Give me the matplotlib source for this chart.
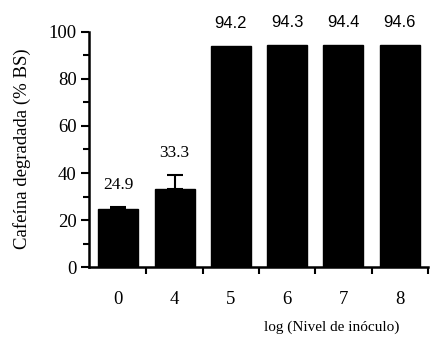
import matplotlib
matplotlib.use("Agg")
import matplotlib.pyplot as plt
import numpy as np

categories = ["0", "4", "5", "6", "7", "8"]
values = [24.9, 33.3, 94.2, 94.3, 94.4, 94.6]
errors = [0.6, 5.8, 0.0, 0.0, 0.0, 0.0]
value_labels = ["24.9", "33.3", "94.2", "94.3", "94.4", "94.6"]

serif = ["Liberation Serif", "DejaVu Serif"]
sans = ["Liberation Sans", "DejaVu Sans"]

fig = plt.figure(figsize=(4.3, 3.39), dpi=100)
ax = fig.add_axes([0.207, 0.212, 0.788, 0.694])

x = np.arange(len(categories))
ax.bar(x, values, width=0.71, color="black", edgecolor="black")
ax.errorbar(x[:2], values[:2], yerr=[np.zeros(2), errors[:2]], fmt="none",
            ecolor="black", elinewidth=1.5, capsize=6, capthick=1.5)

for i, (v, e, lab) in enumerate(zip(values, errors, value_labels)):
    fam = serif if i < 2 else sans
    ax.text(i, v + e + 9.5, lab, ha="center", va="center", fontsize=12.5 if i < 2 else 12,
            family=fam, clip_on=False)

ax.set_xlim(-0.52, 5.5)
ax.set_ylim(0, 100)
ax.set_yticks(np.arange(0, 101, 20))
ax.set_yticks(np.arange(10, 100, 20), minor=True)
ax.set_xticks(x)
ax.set_xticklabels(categories)
ax.set_xticks(np.arange(0.5, 5.6, 1), minor=True)

for s in ["top", "right"]:
    ax.spines[s].set_visible(False)
for s in ["left", "bottom"]:
    ax.spines[s].set_linewidth(1.8)

ax.tick_params(axis="y", which="major", direction="out", length=6, width=1.5, labelsize=13.5, pad=3)
ax.tick_params(axis="y", which="minor", direction="out", length=4, width=1.5)
ax.tick_params(axis="x", which="major", length=0, labelsize=13.5, pad=17)
ax.tick_params(axis="x", which="minor", direction="out", length=5, width=1.5)
for lab in ax.get_xticklabels() + ax.get_yticklabels():
    lab.set_family(serif)

fig.text(0.051, 0.56, "Cafeína degradada (% BS)", rotation=90, ha="center", va="center",
         fontsize=13.5, family=serif)
fig.text(0.772, 0.035, "log (Nivel de inóculo)", ha="center", va="center", fontsize=11, family=serif)

fig.savefig("out.png", dpi=100)
